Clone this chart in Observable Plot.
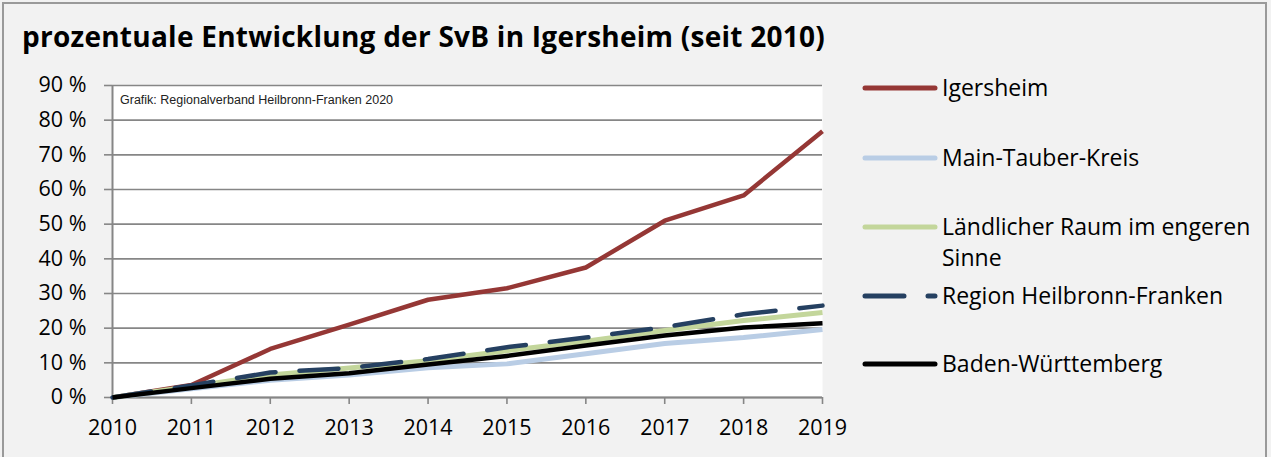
<!DOCTYPE html>
<html>
<head>
<meta charset="utf-8">
<script src="https://cdn.jsdelivr.net/npm/d3@7"></script>
<script src="https://cdn.jsdelivr.net/npm/@observablehq/plot@0.6"></script>
<style>
  html, body { margin: 0; padding: 0; background: #f2f2f2; }
  #chart { position: relative; width: 1271px; height: 457px; background: #f2f2f2; overflow: hidden; font-family: "Open Sans", Lato, sans-serif; }
  #border { position: absolute; left: 2px; top: 2px; width: 1265px; height: 470px; border: 2px solid #9a9a9a; box-sizing: border-box; }
  #title { position: absolute; left: 22px; top: 36px; font-size: 28px; letter-spacing: 0.25px; font-weight: bold; color: #000; white-space: nowrap; line-height: 0; }
  #plot { position: absolute; left: 0; top: 70px; }
  #source { position: absolute; left: 120px; top: 93px; font-family: "Liberation Sans", Arial, sans-serif; font-size: 12.5px; color: #222; }
  .leg { position: absolute; left: 862px; font-size: 23px; color: #000; line-height: 31px; }
  .leg svg { position: absolute; left: 0; top: 0; }
  .leg span { position: absolute; left: 80px; top: 0; white-space: nowrap; }
</style>
</head>
<body>
<div id="chart">
  <div id="border"></div>
  <div id="title">prozentuale Entwicklung der SvB in Igersheim (seit 2010)</div>
  <div id="plot"></div>
  <div id="source">Grafik: Regionalverband Heilbronn-Franken 2020</div>
  <div id="legend"></div>
</div>
<script>
const years = [2010, 2011, 2012, 2013, 2014, 2015, 2016, 2017, 2018, 2019];
const igersheim  = [0, 3.6, 14.0, 21.0, 28.2, 31.5, 37.5, 51.0, 58.3, 76.8];
const mainTauber = [0, 2.5, 5.0, 6.5, 8.6, 9.7, 12.6, 15.6, 17.3, 19.6];
const laendlich  = [0, 3.2, 6.5, 8.5, 10.6, 13.5, 16.2, 19.3, 22.2, 24.5];
const region     = [0, 3.5, 7.2, 8.5, 11.1, 14.5, 17.3, 20.3, 24.0, 26.5];
const bw         = [0, 2.7, 5.4, 7.0, 9.5, 12.0, 15.0, 17.9, 20.2, 21.4];

const seriesNames = ["Igersheim", "Main-Tauber-Kreis", "Ländlicher Raum im engeren Sinne", "Region Heilbronn-Franken", "Baden-Württemberg"];
const seriesValues = [igersheim, mainTauber, laendlich, region, bw];
const seriesColors = ["#953735", "#b9cde5", "#c3d69b", "#254061", "#000000"];
const seriesDash = [null, null, null, "39,24", null];
const seriesWidth = [4.5, 5, 5, 4.5, 4.5];
const yTicks = [0, 10, 20, 30, 40, 50, 60, 70, 80, 90];
const yTickLabels = yTicks.map(d => `${d} %`);

const tables = seriesValues.map((vals, i) => years.map((yr, j) => ({year: yr, value: vals[j], series: seriesNames[i]})));

const gray = "#868686";
const chart = Plot.plot({
  width: 860,
  height: 387,
  marginTop: 15,
  marginLeft: 112,
  marginRight: 38,
  marginBottom: 60,
  style: {fontFamily: "'Open Sans', Lato, sans-serif", background: "transparent", color: "black", overflow: "visible"},
  x: {type: "linear", domain: [2010, 2019]},
  y: {domain: [0, 90]},
  marks: [
    Plot.frame({fill: "white", stroke: "none"}),
    Plot.gridY(yTicks, {stroke: gray, strokeOpacity: 1, strokeWidth: 1.6}),
    Plot.ruleX([2010], {stroke: gray, strokeWidth: 2}),
    Plot.ruleY([0], {stroke: gray, strokeWidth: 2}),
    Plot.axisY(yTicks, {tickFormat: d => yTickLabels[yTicks.indexOf(d)], tickSize: 8, tickPadding: 18, label: null, fontSize: 21.5, stroke: gray, strokeWidth: 1.6, fill: "black"}),
    Plot.axisX(years, {tickFormat: d => String(d), tickSize: 7, tickPadding: 15, label: null, fontSize: 21.5, stroke: gray, strokeWidth: 1.6, fill: "black"}),
    ...tables.map((t, i) => Plot.line(t, {
      x: "year", y: "value",
      stroke: seriesColors[i],
      strokeWidth: seriesWidth[i],
      strokeDasharray: seriesDash[i],
      strokeLinecap: seriesDash[i] ? "round" : "butt",
      strokeLinejoin: "round"
    }))
  ]
});
document.getElementById("plot").appendChild(chart);

// legend
const legendTops = [72, 142, 211, 280, 348];
const legend = document.getElementById("legend");
seriesNames.forEach((name, i) => {
  const d = document.createElement("div");
  d.className = "leg";
  d.style.top = legendTops[i] + "px";
  const label = name === "Ländlicher Raum im engeren Sinne" ? "Ländlicher Raum im engeren<br>Sinne" : name;
  d.innerHTML = `<svg width="80" height="31"><line x1="3" x2="73" y1="16" y2="16" stroke="${seriesColors[i]}" stroke-width="5" stroke-linecap="round" ${seriesDash[i] ? `stroke-dasharray="${seriesDash[i]}"` : ""}/></svg><span>${label}</span>`;
  legend.appendChild(d);
});
</script>
</body>
</html>
